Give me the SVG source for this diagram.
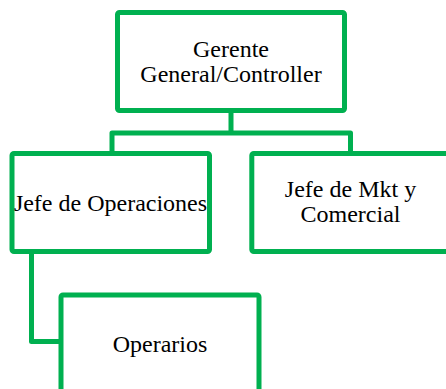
<svg xmlns="http://www.w3.org/2000/svg" width="446" height="389" viewBox="0 0 446 389">
<style>
.box{fill:#ffffff;stroke:#00B050;stroke-width:5;stroke-linejoin:round}
.conn{fill:none;stroke:#00B050;stroke-width:5;stroke-linejoin:round}
text{font-family:"Liberation Serif","Times New Roman",serif;font-size:24px;fill:#000;text-anchor:middle}
</style>
<rect width="446" height="389" fill="#ffffff"/>
<g id="connectors">
<path class="conn" d="M231,110.5 V133 M112,153.5 V133 H350.5 V153.5"/>
<path class="conn" d="M31.5,251.5 V341.5 H61"/>
</g>
<g id="gerente">
<rect class="box" x="117.5" y="12.5" width="227" height="98" rx="2"/>
<text x="231" y="57">Gerente</text>
<text x="231" y="81.5">General/Controller</text>
</g>
<g id="jefe-operaciones">
<rect class="box" x="12" y="153.5" width="197.5" height="98" rx="2"/>
<text x="110.5" y="211">Jefe de Operaciones</text>
</g>
<g id="jefe-mkt">
<rect class="box" x="251.8" y="153.5" width="197.5" height="98" rx="2"/>
<text x="350.5" y="197.3">Jefe de Mkt y</text>
<text x="350.5" y="221.7">Comercial</text>
</g>
<g id="operarios">
<rect class="box" x="61" y="295" width="198" height="98" rx="2"/>
<text x="160" y="351.5">Operarios</text>
</g>
</svg>
